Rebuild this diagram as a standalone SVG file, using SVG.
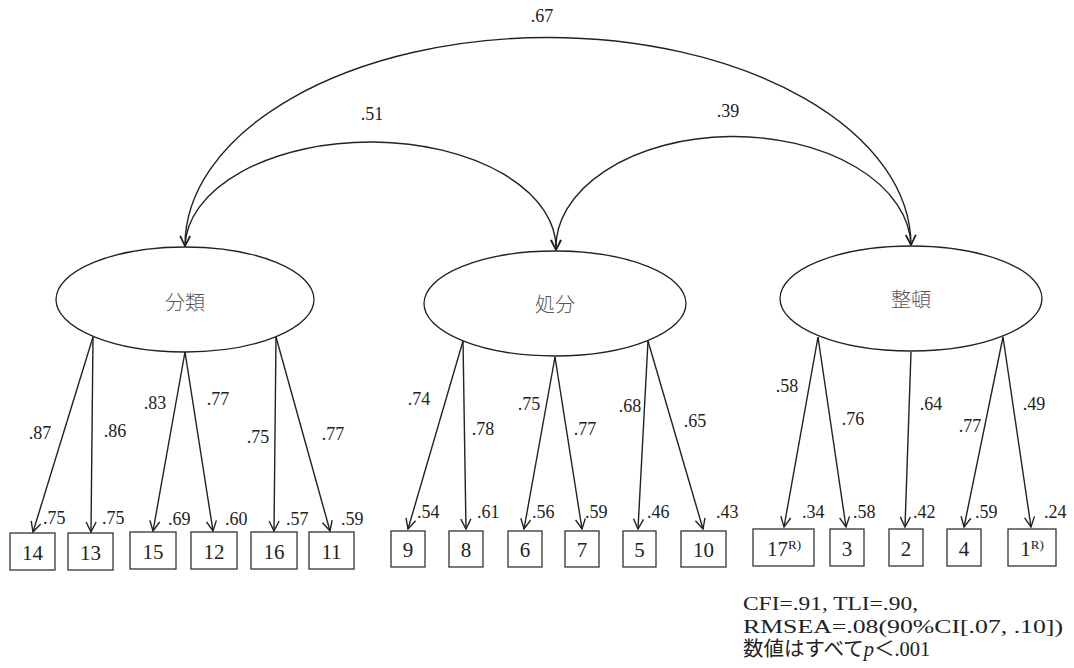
<svg xmlns="http://www.w3.org/2000/svg" width="1074" height="668" viewBox="0 0 1074 668">
  <style>
    .latent { fill: #fff; stroke: #222; stroke-width: 1.3; }
    .latent-label { font-family: "Noto Sans CJK JP", sans-serif; font-size: 20px; font-weight: 300; fill: #555; text-anchor: middle; }
    .item { fill: #fff; stroke: #333; stroke-width: 1.3; }
    .item-label { font-family: "Liberation Serif", serif; font-size: 21px; fill: #222; text-anchor: middle; }
    .sup { font-size: 13px; }
    .edge { fill: none; stroke: #222; stroke-width: 1.4; }
    .path { marker-end: url(#head); }
    .cov { marker-start: url(#head); marker-end: url(#head); }
    .coef { font-family: "Liberation Serif", serif; font-size: 18px; fill: #222; }
    .mid { text-anchor: middle; }
    .fit { font-family: "Liberation Serif", "Noto Sans CJK JP", serif; font-size: 19px; fill: #222; }
    .fit-jp { font-size: 20.5px; }
  </style>
  <defs>
    <marker id="head" viewBox="0 0 12 12" refX="11" refY="6" markerWidth="12" markerHeight="12" markerUnits="userSpaceOnUse" orient="auto-start-reverse">
      <path d="M1,1 L11,6 L1,11" fill="none" stroke="#222" stroke-width="1.4"/>
    </marker>
  </defs>

  <rect width="1074" height="668" fill="#fff"/>

  <!-- factor covariances and loadings -->
  <g id="connectors">
    <path class="edge cov" d="M185,246 A363,208 0 0 1 911,245"/>
    <path class="edge cov" d="M185,246 A185.5,106 0 0 1 556,250"/>
    <path class="edge cov" d="M556,250 A177.5,111 0 0 1 911,245"/>

    <line class="edge path" x1="93" y1="337" x2="33" y2="532"/>
    <line class="edge path" x1="93" y1="337" x2="91" y2="532"/>
    <line class="edge path" x1="185" y1="352" x2="153" y2="531"/>
    <line class="edge path" x1="185" y1="352" x2="213" y2="531"/>
    <line class="edge path" x1="276" y1="337" x2="274" y2="531"/>
    <line class="edge path" x1="276" y1="337" x2="330" y2="531"/>

    <line class="edge path" x1="463" y1="341" x2="408" y2="529"/>
    <line class="edge path" x1="463" y1="341" x2="466" y2="529"/>
    <line class="edge path" x1="555" y1="357" x2="524" y2="529"/>
    <line class="edge path" x1="555" y1="357" x2="582" y2="529"/>
    <line class="edge path" x1="648" y1="341" x2="638" y2="529"/>
    <line class="edge path" x1="648" y1="341" x2="703" y2="529"/>

    <line class="edge path" x1="818" y1="337" x2="784" y2="527"/>
    <line class="edge path" x1="818" y1="337" x2="846" y2="527"/>
    <line class="edge path" x1="911" y1="352" x2="905" y2="527"/>
    <line class="edge path" x1="1003" y1="337" x2="964" y2="527"/>
    <line class="edge path" x1="1003" y1="337" x2="1031" y2="527"/>

    <!-- correlation labels -->
    <text class="coef mid" x="542" y="22">.67</text>
    <text class="coef mid" x="372" y="120">.51</text>
    <text class="coef mid" x="728" y="117">.39</text>

    <!-- loading labels -->
    <text class="coef mid" x="40" y="439">.87</text>
    <text class="coef mid" x="115" y="437">.86</text>
    <text class="coef mid" x="155" y="409">.83</text>
    <text class="coef mid" x="218" y="405">.77</text>
    <text class="coef mid" x="258" y="443">.75</text>
    <text class="coef mid" x="333" y="440">.77</text>

    <text class="coef mid" x="419" y="405">.74</text>
    <text class="coef mid" x="483" y="435">.78</text>
    <text class="coef mid" x="529" y="410">.75</text>
    <text class="coef mid" x="585" y="435">.77</text>
    <text class="coef mid" x="630" y="412">.68</text>
    <text class="coef mid" x="695" y="427">.65</text>

    <text class="coef mid" x="787" y="392">.58</text>
    <text class="coef mid" x="853" y="425">.76</text>
    <text class="coef mid" x="931" y="410">.64</text>
    <text class="coef mid" x="970" y="432">.77</text>
    <text class="coef mid" x="1034" y="410">.49</text>

    <!-- squared multiple correlations -->
    <text class="coef" x="43" y="524">.75</text>
    <text class="coef" x="102" y="524">.75</text>
    <text class="coef" x="168" y="525">.69</text>
    <text class="coef" x="225" y="525">.60</text>
    <text class="coef" x="286" y="525">.57</text>
    <text class="coef" x="341" y="525">.59</text>

    <text class="coef" x="417" y="518">.54</text>
    <text class="coef" x="477" y="518">.61</text>
    <text class="coef" x="532" y="518">.56</text>
    <text class="coef" x="585" y="518">.59</text>
    <text class="coef" x="647" y="518">.46</text>
    <text class="coef" x="716" y="518">.43</text>

    <text class="coef" x="802" y="518">.34</text>
    <text class="coef" x="853" y="518">.58</text>
    <text class="coef" x="913" y="518">.42</text>
    <text class="coef" x="975" y="518">.59</text>
    <text class="coef" x="1044" y="518">.24</text>
  </g>

  <!-- latent factors -->
  <g id="f-bunrui">
    <ellipse class="latent" cx="185" cy="299.5" rx="129" ry="52.5"/>
    <text class="latent-label" x="185" y="310">分類</text>
  </g>
  <g id="f-shobun">
    <ellipse class="latent" cx="555" cy="303.5" rx="131" ry="52.5"/>
    <text class="latent-label" x="555" y="312">処分</text>
  </g>
  <g id="f-seiton">
    <ellipse class="latent" cx="911" cy="298.5" rx="131" ry="52.5"/>
    <text class="latent-label" x="911" y="307">整頓</text>
  </g>

  <!-- observed items -->
  <g id="item14"><rect class="item" x="10" y="533" width="45" height="37"/><text class="item-label" x="32.5" y="560">14</text></g>
  <g id="item13"><rect class="item" x="68" y="533" width="45" height="37"/><text class="item-label" x="90.5" y="560">13</text></g>
  <g id="item15"><rect class="item" x="130" y="532" width="46" height="37"/><text class="item-label" x="153" y="559">15</text></g>
  <g id="item12"><rect class="item" x="191" y="532" width="46" height="37"/><text class="item-label" x="214" y="559">12</text></g>
  <g id="item16"><rect class="item" x="251" y="532" width="46" height="37"/><text class="item-label" x="274" y="559">16</text></g>
  <g id="item11"><rect class="item" x="309" y="532" width="45" height="37"/><text class="item-label" x="331.5" y="559">11</text></g>

  <g id="item9"><rect class="item" x="391" y="531" width="34" height="36"/><text class="item-label" x="408" y="557">9</text></g>
  <g id="item8"><rect class="item" x="449" y="531" width="34" height="36"/><text class="item-label" x="466" y="557">8</text></g>
  <g id="item6"><rect class="item" x="508" y="531" width="34" height="36"/><text class="item-label" x="525" y="557">6</text></g>
  <g id="item7"><rect class="item" x="565" y="531" width="34" height="36"/><text class="item-label" x="582" y="557">7</text></g>
  <g id="item5"><rect class="item" x="623" y="531" width="33" height="36"/><text class="item-label" x="639.5" y="557">5</text></g>
  <g id="item10"><rect class="item" x="681" y="531" width="45" height="36"/><text class="item-label" x="703.5" y="557">10</text></g>

  <g id="item17"><rect class="item" x="753" y="529" width="61" height="37"/><text class="item-label" x="784" y="556">17<tspan class="sup" dy="-7">R)</tspan></text></g>
  <g id="item3"><rect class="item" x="830" y="529" width="34" height="37"/><text class="item-label" x="847" y="556">3</text></g>
  <g id="item2"><rect class="item" x="889" y="529" width="34" height="37"/><text class="item-label" x="906" y="556">2</text></g>
  <g id="item4"><rect class="item" x="947" y="529" width="34" height="37"/><text class="item-label" x="964" y="556">4</text></g>
  <g id="item1"><rect class="item" x="1008" y="529" width="48" height="37"/><text class="item-label" x="1032" y="556">1<tspan class="sup" dy="-7">R)</tspan></text></g>

  <!-- model fit -->
  <g id="fit-indices">
    <text class="fit" x="743" y="610" textLength="175" lengthAdjust="spacingAndGlyphs">CFI=.91, TLI=.90,</text>
    <text class="fit" x="743" y="633" textLength="320" lengthAdjust="spacingAndGlyphs">RMSEA=.08(90%CI[.07, .10])</text>
    <text class="fit fit-jp" x="743" y="656">数値はすべて<tspan font-style="italic">p</tspan>＜.001</text>
  </g>
</svg>
